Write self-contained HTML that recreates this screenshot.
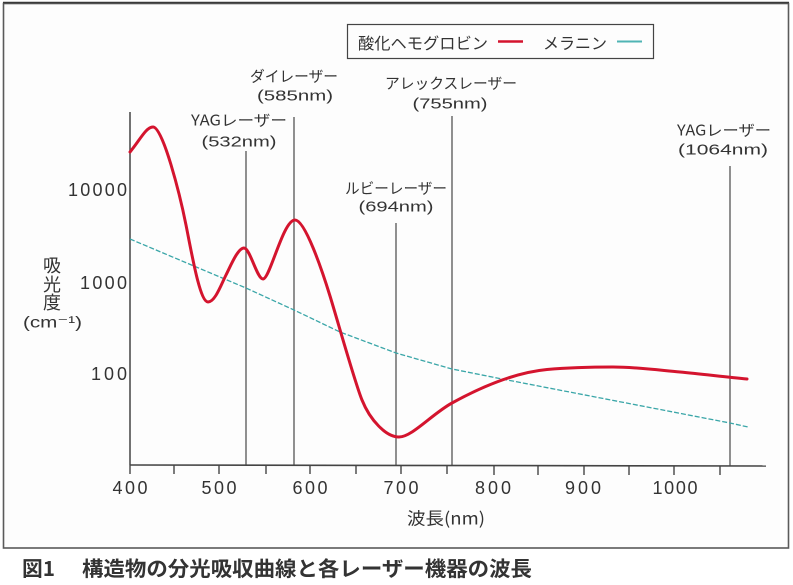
<!DOCTYPE html>
<html>
<head>
<meta charset="utf-8">
<style>
html,body{margin:0;padding:0;background:#fff;}
svg{display:block;}
text{font-family:"Liberation Sans","Noto Sans CJK JP",sans-serif;fill:#333;}
.jp{font-family:"Noto Sans CJK JP","Liberation Sans",sans-serif;}
</style>
</head>
<body>
<svg width="793" height="585" viewBox="0 0 793 585" xmlns="http://www.w3.org/2000/svg">
  <rect x="0" y="0" width="793" height="585" fill="#ffffff"/>
  <!-- outer frame -->
  <rect x="3.5" y="3.5" width="785" height="544.5" fill="#fdfdfd" stroke="#5a5a5a" stroke-width="1.6"/>
  <line x1="3" y1="2.5" x2="789" y2="2.5" stroke="#3a3a3a" stroke-width="1.5"/>

  <!-- legend -->
  <rect x="347.5" y="24.5" width="306" height="34" fill="#fdfdfd" stroke="#444" stroke-width="1.2"/>
  <text class="jp" x="358" y="42" font-size="16" dominant-baseline="central" textLength="130" lengthAdjust="spacingAndGlyphs">酸化ヘモグロビン</text>
  <line x1="498" y1="41.5" x2="523" y2="41.5" stroke="#d4142e" stroke-width="2.5"/>
  <text class="jp" x="543" y="42" font-size="16" dominant-baseline="central" textLength="64" lengthAdjust="spacingAndGlyphs">メラニン</text>
  <line x1="617" y1="41.5" x2="642" y2="41.5" stroke="#4fb4b4" stroke-width="2"/>

  <!-- laser vertical lines -->
  <g stroke="#555" stroke-width="1.3">
    <line x1="246" y1="151" x2="246" y2="465"/>
    <line x1="294" y1="117" x2="294" y2="465"/>
    <line x1="396" y1="223" x2="396" y2="465"/>
    <line x1="452" y1="116" x2="452" y2="465"/>
    <line x1="730" y1="166" x2="730" y2="466"/>
  </g>

  <!-- axes -->
  <line x1="130" y1="112" x2="130" y2="465" stroke="#444" stroke-width="1.5"/>
  <line x1="130" y1="465" x2="766" y2="466" stroke="#444" stroke-width="1.6"/>
  <g stroke="#444" stroke-width="1.4">
    <line x1="130" y1="465" x2="130" y2="474"/>
    <line x1="174" y1="465" x2="174" y2="474"/>
    <line x1="219" y1="465" x2="219" y2="474"/>
    <line x1="266" y1="465" x2="266" y2="474"/>
    <line x1="310" y1="465" x2="310" y2="474"/>
    <line x1="356" y1="465" x2="356" y2="474"/>
    <line x1="401" y1="465" x2="401" y2="474"/>
    <line x1="447" y1="465" x2="447" y2="474"/>
    <line x1="494" y1="466" x2="494" y2="475"/>
    <line x1="538" y1="466" x2="538" y2="475"/>
    <line x1="584" y1="466" x2="584" y2="475"/>
    <line x1="629" y1="466" x2="629" y2="475"/>
    <line x1="674" y1="466" x2="674" y2="475"/>
    <line x1="720" y1="466" x2="720" y2="475"/>
  </g>

  <!-- x tick labels -->
  <g font-size="18" text-anchor="middle">
    <text x="130" y="488" dominant-baseline="central" textLength="35" lengthAdjust="spacing">400</text>
    <text x="219" y="488" dominant-baseline="central" textLength="35" lengthAdjust="spacing">500</text>
    <text x="310" y="488" dominant-baseline="central" textLength="35" lengthAdjust="spacing">600</text>
    <text x="401" y="488" dominant-baseline="central" textLength="35" lengthAdjust="spacing">700</text>
    <text x="493" y="488" dominant-baseline="central" textLength="36" lengthAdjust="spacing">800</text>
    <text x="583" y="488" dominant-baseline="central" textLength="36" lengthAdjust="spacing">900</text>
    <text x="675" y="488" dominant-baseline="central" textLength="45" lengthAdjust="spacing">1000</text>
  </g>
  <text class="jp" x="407" y="517" font-size="17" dominant-baseline="central" textLength="78" lengthAdjust="spacingAndGlyphs">波長(nm)</text>

  <!-- y tick labels -->
  <g font-size="18">
    <text x="68" y="190" dominant-baseline="central" textLength="59" lengthAdjust="spacing">10000</text>
    <text x="80" y="283" dominant-baseline="central" textLength="47" lengthAdjust="spacing">1000</text>
    <text x="91" y="374" dominant-baseline="central" textLength="36" lengthAdjust="spacing">100</text>
  </g>
  <!-- y axis label -->
  <g font-size="18" text-anchor="middle">
    <text class="jp" x="52" y="265" dominant-baseline="central">吸</text>
    <text class="jp" x="52" y="284" dominant-baseline="central">光</text>
    <text class="jp" x="52" y="302" dominant-baseline="central">度</text>
  </g>
  <text x="23" y="323" font-size="16" dominant-baseline="central" textLength="59" lengthAdjust="spacingAndGlyphs">(cm⁻¹)</text>

  <!-- laser labels -->
  <g font-size="15" text-anchor="middle">
    <text class="jp" x="239" y="120" dominant-baseline="central" textLength="96" lengthAdjust="spacingAndGlyphs">YAGレーザー</text>
    <text x="239" y="142" dominant-baseline="central" textLength="75" lengthAdjust="spacingAndGlyphs">(532nm)</text>
    <text class="jp" x="294" y="76" dominant-baseline="central" textLength="88" lengthAdjust="spacingAndGlyphs">ダイレーザー</text>
    <text x="295" y="96" dominant-baseline="central" textLength="76" lengthAdjust="spacingAndGlyphs">(585nm)</text>
    <text class="jp" x="396" y="188" dominant-baseline="central" textLength="102" lengthAdjust="spacingAndGlyphs">ルビーレーザー</text>
    <text x="396" y="207" dominant-baseline="central" textLength="75" lengthAdjust="spacingAndGlyphs">(694nm)</text>
    <text class="jp" x="451" y="83" dominant-baseline="central" textLength="132" lengthAdjust="spacingAndGlyphs">アレックスレーザー</text>
    <text x="450" y="104" dominant-baseline="central" textLength="75" lengthAdjust="spacingAndGlyphs">(755nm)</text>
    <text class="jp" x="724" y="130" dominant-baseline="central" textLength="94" lengthAdjust="spacingAndGlyphs">YAGレーザー</text>
    <text x="723" y="150" dominant-baseline="central" textLength="90" lengthAdjust="spacingAndGlyphs">(1064nm)</text>
  </g>

  <!-- melanin (cyan dashed) -->
  <polyline fill="none" stroke="#3aa6a8" stroke-width="1.3" stroke-dasharray="5 2"
    points="130,239 227,280 246,288 294,310 340,332 396,353 452,369 497,378 730,423 748,427"/>

  <!-- oxyhemoglobin (red) -->
  <path fill="none" stroke="#d4142e" stroke-width="3" stroke-linecap="round" stroke-linejoin="round"
    d="M130,152
       C140,140 146,127 153,127
       C163,127 180,195 186,225
       C192,255 200,302 208,302
       C215,302 221,285 226,275
       C231,265 238,248 244,248
       C250,248 257,279 263,279
       C270,279 283,220 295,220
       C305,220 322,270 330,296
       C338,322 355,383 362,400
       C370,420 386,437 399,437
       C412,437 432,414 452,403
       C472,392 510,373 547,369.5
       C570,367.5 590,367 613,367
       C635,367 658,370 680,372
       C702,374 725,377 747,379"/>

  <!-- caption -->
  <text class="jp" x="22" y="567" font-size="20.5" font-weight="bold" dominant-baseline="central" textLength="33" lengthAdjust="spacingAndGlyphs">図1</text>
  <text class="jp" x="82" y="567" font-size="20.5" font-weight="bold" dominant-baseline="central" textLength="450" lengthAdjust="spacingAndGlyphs">構造物の分光吸収曲線と各レーザー機器の波長</text>
</svg>
</body>
</html>
